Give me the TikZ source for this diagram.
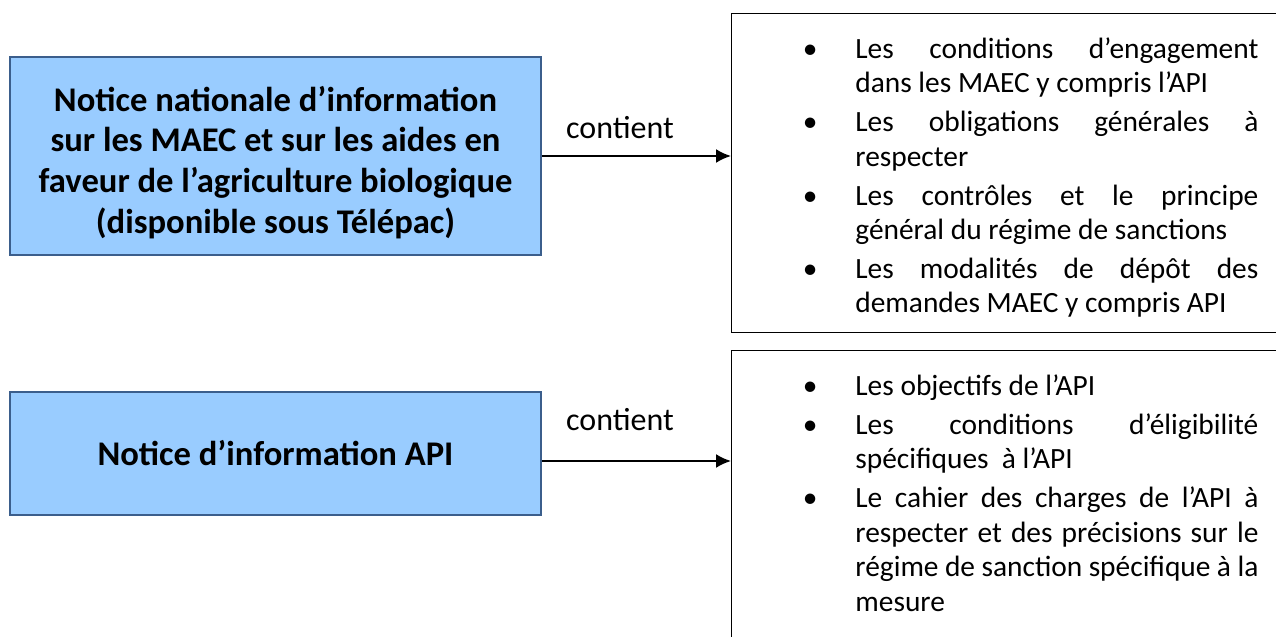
\documentclass[tikz,border=0pt]{standalone}
\usepackage{fontspec}
\setmainfont{Carlito}
\usepackage{tikz}
\usetikzlibrary{arrows.meta}
\definecolor{bleuboite}{HTML}{99CCFF}
\definecolor{bordboite}{HTML}{3B5E8C}
\newcommand{\puce}{\par\noindent\llap{\textbullet\hspace{19pt}}}
\newcommand{\ligne}[1]{\makebox[\linewidth][s]{#1}\\}

\begin{document}
\begin{tikzpicture}[x=0.5pt, y=-0.5pt,
  notice/.style = {shape=rectangle, draw=bordboite, line width=1pt,
    fill=bleuboite, align=center, minimum width=265.5pt,
    font=\fontsize{17.3}{20.3}\selectfont\bfseries},
  cadre/.style = {shape=rectangle, draw, line width=0.6pt, anchor=north west,
    minimum width=300pt},
  liste/.style = {anchor=north west, inner sep=0pt, text width=201.5pt,
    align=justify, font=\fontsize{14.7}{17.2}\selectfont},
  etiquette/.style = {font=\fontsize{16}{18}\selectfont},
  fleche/.style = {line width=1pt, -{Latex[length=7.5pt,width=7pt]}}]
  \clip (0,0) rectangle (1276,637);
  \node[notice, minimum height=99pt] (notice1) at (275.5,156)
    {\rule{0pt}{19pt}Notice nationale d’information\\ sur les MAEC et sur les aides en\\
     faveur de l’agriculture biologique\\ (disponible sous Télépac)};
  \node[notice, minimum height=61.5pt] (notice2) at (275.5,453.5)
    {Notice d’information API};
  \node[cadre, minimum height=159.5pt] (cadre1) at (731,13) {};
  \node[cadre, minimum height=160pt] (cadre2) at (731,350) {};
  \node[liste] (liste1) at (855,19) {%
    \setlength{\parskip}{2.3pt}%
    \puce\ligne{Les conditions d’engagement}dans les MAEC y compris l’API
    \puce\ligne{Les obligations générales à}respecter
    \puce\ligne{Les contrôles et le principe}général du régime de sanctions
    \puce\ligne{Les modalités de dépôt des}demandes MAEC y compris API};
  \node[liste] (liste2) at (855,356) {%
    \setlength{\parskip}{2.3pt}%
    \puce Les objectifs de l’API
    \puce\ligne{Les conditions d’éligibilité}spécifiques\ \ à l’API
    \puce\ligne{Le cahier des charges de l’API à}\ligne{respecter et des précisions sur le}%
      \ligne{régime de sanction spécifique à la}mesure};
  \node[etiquette] (contient1) at (620,128) {contient};
  \node[etiquette] (contient2) at (620,420) {contient};
  \draw[fleche] (notice1.east) -- (notice1.east -| cadre1.west);
  \draw[fleche] ([yshift=-3.75pt]notice2.east) -- ([yshift=-3.75pt]notice2.east -| cadre2.west);
\end{tikzpicture}
\end{document}
